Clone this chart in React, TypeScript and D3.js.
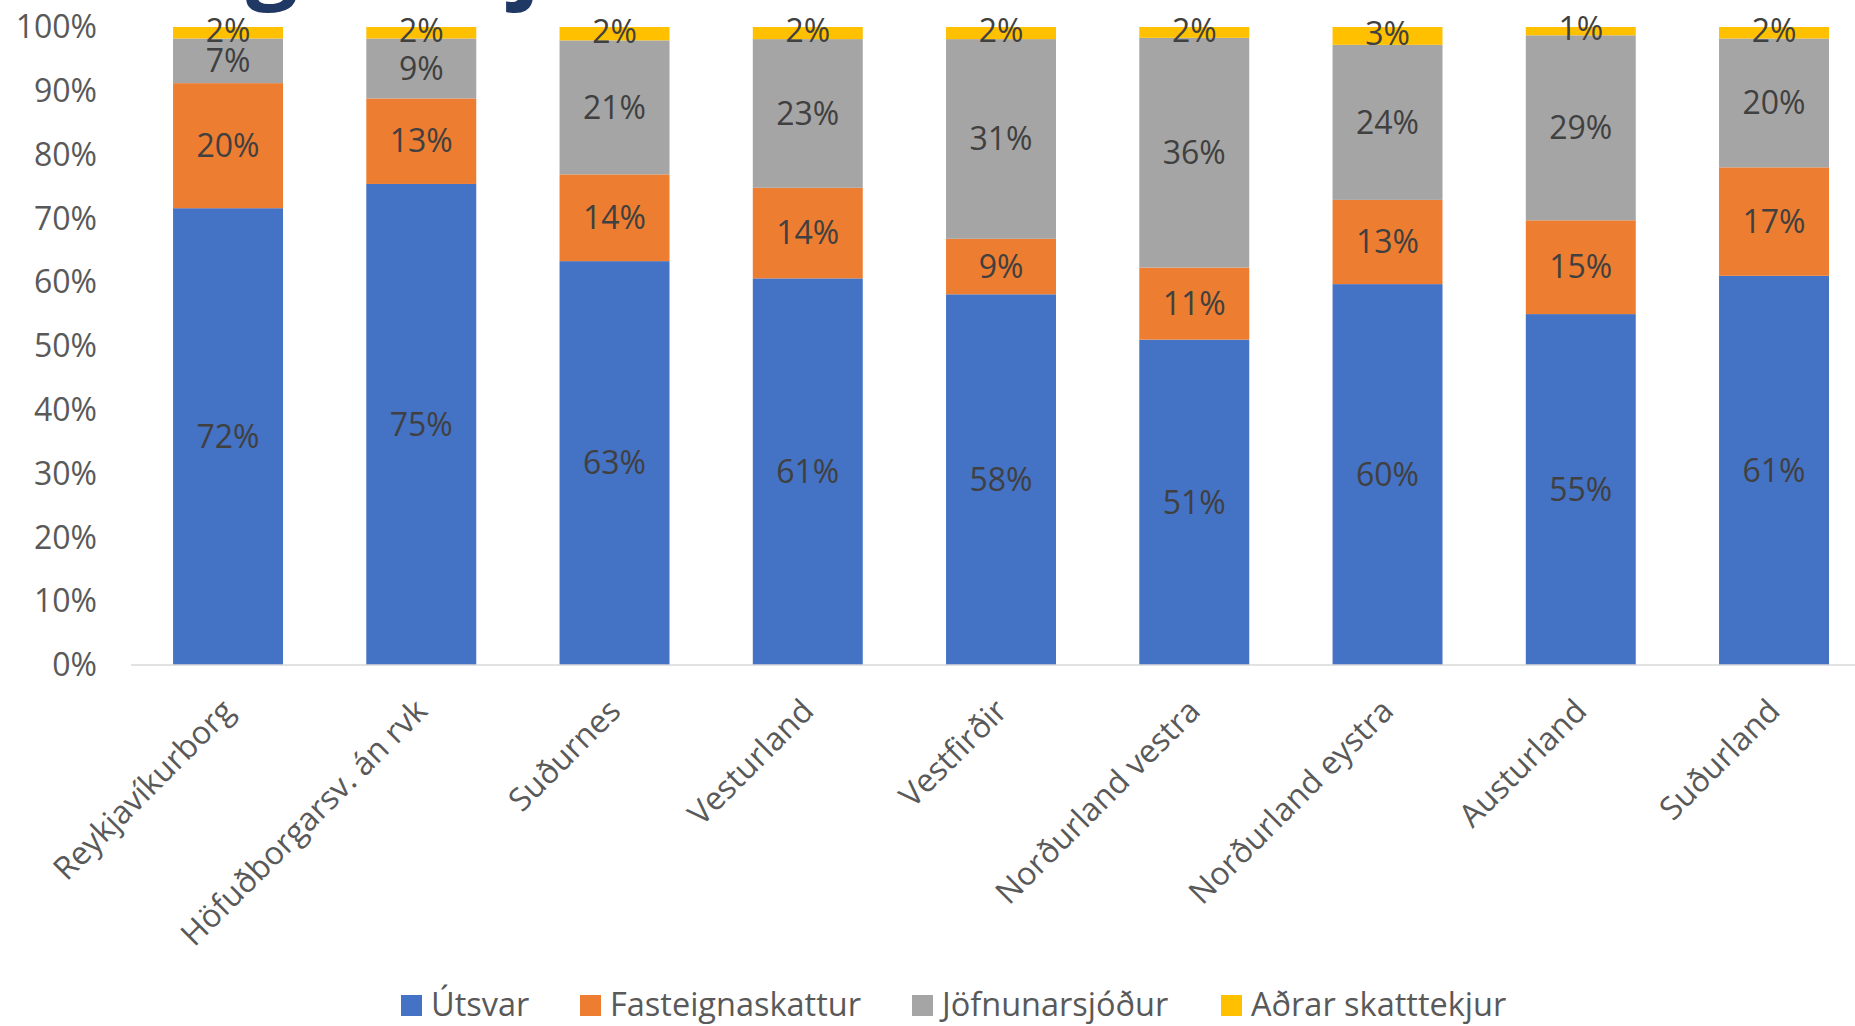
import React from "react";
import * as d3 from "d3";

const categories = [
  "Reykjavíkurborg",
  "Höfuðborgarsv. án rvk",
  "Suðurnes",
  "Vesturland",
  "Vestfirðir",
  "Norðurland vestra",
  "Norðurland eystra",
  "Austurland",
  "Suðurland",
];

const seriesNames = ["Útsvar", "Fasteignaskattur", "Jöfnunarsjóður", "Aðrar skatttekjur"];

const utsvar = [71.6, 75.4, 63.3, 60.6, 58.1, 51.0, 59.7, 55.0, 61.0];
const fasteignaskattur = [19.6, 13.4, 13.6, 14.2, 8.7, 11.3, 13.2, 14.7, 17.0];
const jofnunarsjodur = [7.0, 9.4, 21.0, 23.3, 31.3, 36.0, 24.3, 29.0, 20.2];
const adrar = [1.8, 1.8, 2.1, 1.9, 1.9, 1.7, 2.8, 1.3, 1.8];

const yTicks = [0, 10, 20, 30, 40, 50, 60, 70, 80, 90, 100];

const colors = ["#4472C4", "#ED7D31", "#A5A5A5", "#FFC000"];

const W = 1855;
const H = 1026;
const FONT = "'Open Sans', sans-serif";

export default function App() {
  const seriesValues = [utsvar, fasteignaskattur, jofnunarsjodur, adrar];
  const rows = categories.map((c, i) => {
    const r: any = { cat: c };
    seriesNames.forEach((s, k) => (r[s] = seriesValues[k][i]));
    return r;
  });
  const stack = d3.stack().keys(seriesNames);
  const stacked = stack(rows);

  const x = d3
    .scaleBand()
    .domain(categories)
    .range([131.4, 131.4 + 193.25 * categories.length])
    .paddingInner(0.431)
    .paddingOuter(0.2155);
  const y = d3.scaleLinear().domain([0, 100]).range([665, 27]);

  const legendX = [401, 580, 912, 1221];

  return (
    <svg
      width={W}
      height={H}
      style={{ position: "absolute", left: 0, top: 0, background: "#fff" }}
      fontFamily={FONT}
    >
      <rect x={0} y={0} width={W} height={H} fill="#fff" />
      {/* cut-off title glyphs */}
      <text x={246} y={-9} fontSize={92} fontWeight={700} fill="#1F3864">g</text>
      <text x={512} y={-9} fontSize={92} fontWeight={700} fill="#1F3864">j</text>

      {/* y tick labels */}
      {yTicks.map((t) => (
        <text
          key={t}
          x={97}
          y={y(t)}
          dy="0.35em"
          textAnchor="end"
          fontSize={32}
          fill="#595959"
        >
          {t}%
        </text>
      ))}

      {/* bars */}
      {stacked.map((s, k) => (
        <g key={s.key} fill={colors[k]}>
          {s.map((d, i) => (
            <rect
              key={i}
              x={x(categories[i])}
              width={x.bandwidth()}
              y={y(d[1])}
              height={y(d[0]) - y(d[1])}
            />
          ))}
        </g>
      ))}

      {/* axis line */}
      <line x1={131} x2={W} y1={665} y2={665} stroke="#D9D9D9" strokeWidth={1.5} />

      {/* data labels */}
      {stacked.map((s, k) => (
        <g key={"l" + s.key}>
          {s.map((d, i) => (
            <text
              key={i}
              x={(x(categories[i]) as number) + x.bandwidth() / 2}
              y={(y(d[0]) + y(d[1])) / 2 - (k === 3 ? 2 : 0)}
              dy="0.35em"
              textAnchor="middle"
              fontSize={32}
              fill="#404040"
            >
              {Math.round(d[1] - d[0])}%
            </text>
          ))}
        </g>
      ))}

      {/* x labels */}
      {categories.map((c) => {
        const cx = (x(c) as number) + x.bandwidth() / 2;
        return (
          <text
            key={c}
            transform={`translate(${cx},${705}) rotate(-45)`}
            dy="0.35em"
            textAnchor="end"
            fontSize={32}
            fill="#595959"
          >
            {c}
          </text>
        );
      })}

      {/* legend */}
      {seriesNames.map((s, k) => (
        <g key={"leg" + s}>
          <rect x={legendX[k]} y={995} width={21} height={21} fill={colors[k]} />
          <text x={legendX[k] + 30} y={1016} fontSize={32.5} fill="#595959">
            {s}
          </text>
        </g>
      ))}
    </svg>
  );
}
